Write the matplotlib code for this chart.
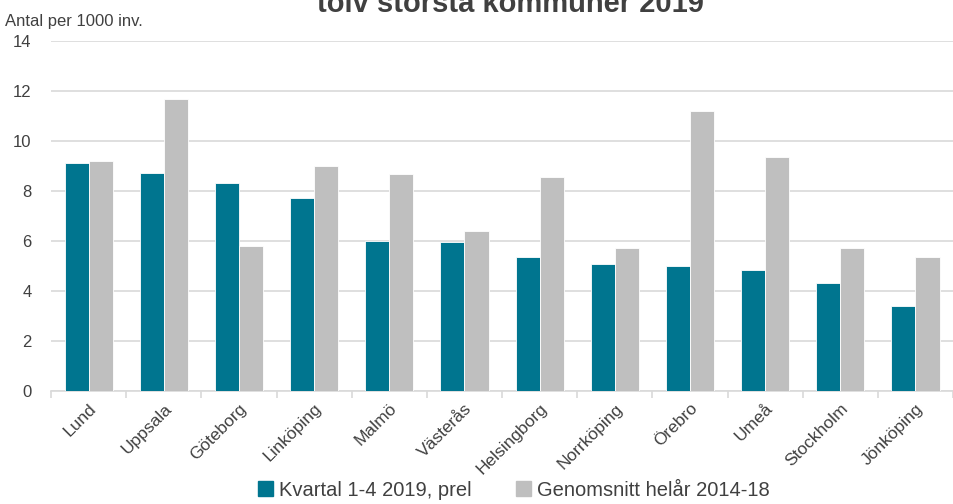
import numpy as np
import matplotlib.pyplot as plt
from matplotlib.patches import Patch

kommuner = ['Lund', 'Uppsala', 'Göteborg', 'Linköping', 'Malmö', 'Västerås',
            'Helsingborg', 'Norrköping', 'Örebro', 'Umeå', 'Stockholm', 'Jönköping']
kvartal_2019 = [9.1, 8.7, 8.3, 7.7, 6.0, 5.97, 5.35, 5.07, 5.0, 4.84, 4.3, 3.4]
snitt_2014_18 = [9.2, 11.68, 5.8, 9.0, 8.67, 6.4, 8.55, 5.71, 11.2, 9.35, 5.71, 5.35]

teal = '#00758F'
grey = '#BFBFBF'

plt.rcParams['font.family'] = ['Liberation Sans', 'DejaVu Sans']

fig = plt.figure(figsize=(9.54, 5.04), dpi=100)
ax = fig.add_axes([0.0535, 0.2242, 0.9455, 0.6945])

x = np.arange(len(kommuner))
w = 0.32
ax.bar(x - w / 2, kvartal_2019, w, color=teal, edgecolor='white', linewidth=0.6, zorder=3)
ax.bar(x + w / 2, snitt_2014_18, w, color=grey, edgecolor='white', linewidth=0.6, zorder=3)

ax.set_xlim(-0.5, len(kommuner) - 0.5)
ax.set_ylim(0, 14)
ax.set_yticks(range(0, 15, 2))
ax.yaxis.grid(True, color='#D9D9D9', linewidth=1.2, zorder=0)
ax.tick_params(axis='y', length=0, labelsize=12, labelcolor='#404040', pad=14)

ax.set_xticks(x)
ax.set_xticklabels(kommuner, rotation=45, ha='right', va='top', rotation_mode='anchor',
                   fontsize=12.5, color='#404040')
ax.set_xticks(np.arange(-0.5, len(kommuner), 1), minor=True)
ax.tick_params(axis='x', which='major', length=0, pad=7)
ax.tick_params(axis='x', which='minor', length=5, color='#D9D9D9', width=1.2)

for s in ['top', 'right', 'left']:
    ax.spines[s].set_visible(False)
ax.spines['bottom'].set_color('#D9D9D9')
ax.spines['bottom'].set_linewidth(1.2)

fig.text(0.005, 0.958, 'Antal per 1000 inv.', fontsize=12, color='#404040', va='center')
# title is cut by the top edge, as in the original
fig.text(0.535, 0.977, 'tolv största kommuner 2019', fontsize=21, fontweight='bold',
         color='#404040', ha='center', va='baseline')

handles = [Patch(color=teal), Patch(color=grey)]
fig.legend(handles, ['Kvartal 1-4 2019, prel', 'Genomsnitt helår 2014-18'],
           loc='center', bbox_to_anchor=(0.539, 0.027), ncol=2, frameon=False,
           fontsize=14.5, handlelength=0.75, handleheight=0.75, handletextpad=0.3,
           columnspacing=2.2, labelcolor='#404040')

fig.savefig('out.png', dpi=100)
